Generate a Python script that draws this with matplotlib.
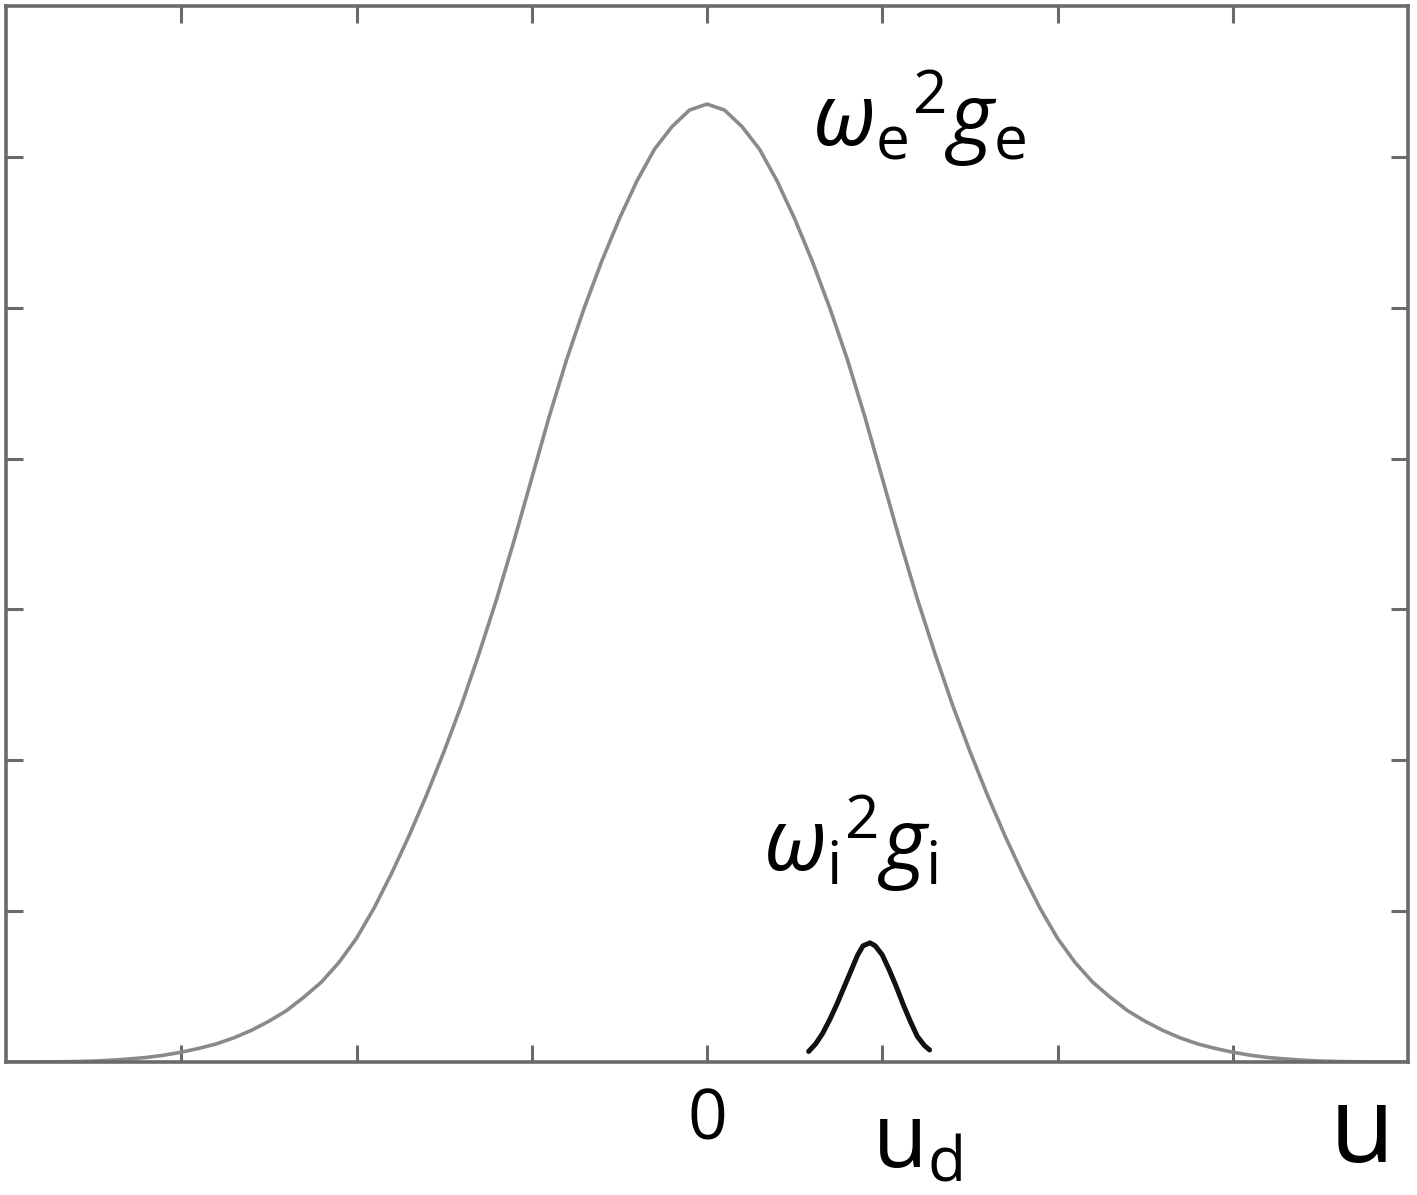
import matplotlib
matplotlib.use("Agg")
import matplotlib.pyplot as plt

plt.rcParams['font.family'] = ['Open Sans', 'DejaVu Sans']
plt.rcParams['mathtext.fontset'] = 'custom'
plt.rcParams['mathtext.rm'] = 'Open Sans'
plt.rcParams['mathtext.it'] = 'Open Sans:italic'
plt.rcParams['mathtext.bf'] = 'Open Sans:bold'

# electron curve  (u, value)
u_e = [-4.0, -3.8, -3.6, -3.5, -3.4, -3.3, -3.2, -3.1, -3.0, -2.9, -2.8, -2.7,
       -2.6, -2.5, -2.4, -2.3, -2.2, -2.1, -2.0, -1.9, -1.8, -1.7, -1.6, -1.5,
       -1.4, -1.3, -1.2, -1.1, -1.0, -0.9, -0.8, -0.7, -0.6, -0.5, -0.4, -0.3,
       -0.2, -0.1, 0.0,
       0.1, 0.2, 0.3, 0.4, 0.5, 0.6, 0.7, 0.8, 0.9, 1.0, 1.1, 1.2, 1.3, 1.4,
       1.5, 1.6, 1.7, 1.8, 1.9, 2.0, 2.1, 2.2, 2.3, 2.4, 2.5, 2.6, 2.7, 2.8,
       2.9, 3.0, 3.1, 3.2, 3.3, 3.4, 3.5, 3.6, 3.8, 4.0]
v_e = [0.0, 0.0, 0.003, 0.006, 0.012, 0.02, 0.03, 0.045, 0.065, 0.09, 0.12,
       0.16, 0.21, 0.27, 0.34, 0.43, 0.53, 0.66, 0.82, 1.02, 1.25, 1.50, 1.77,
       2.06, 2.37, 2.71, 3.07, 3.46, 3.87, 4.28, 4.66, 5.00, 5.31, 5.59, 5.84,
       6.05, 6.20, 6.31, 6.35,
       6.31, 6.20, 6.05, 5.84, 5.59, 5.31, 5.00, 4.66, 4.28, 3.87, 3.46, 3.07,
       2.71, 2.37, 2.06, 1.77, 1.50, 1.25, 1.02, 0.82, 0.66, 0.53, 0.43, 0.34,
       0.27, 0.21, 0.16, 0.12, 0.09, 0.065, 0.045, 0.03, 0.02, 0.012, 0.006,
       0.003, 0.0, 0.0]

# ion curve
u_i = [0.58, 0.62, 0.66, 0.70, 0.74, 0.78, 0.82, 0.86, 0.89, 0.93, 0.96, 1.00,
       1.04, 1.08, 1.12, 1.16, 1.20, 1.24, 1.27]
v_i = [0.07, 0.12, 0.19, 0.28, 0.38, 0.49, 0.60, 0.71, 0.77, 0.79, 0.77, 0.71,
       0.61, 0.50, 0.38, 0.27, 0.17, 0.11, 0.08]

xticks = [-3, -2, -1, 0, 1, 2, 3]
xticklabels = ['', '', '', '0', '', '', '']
yticks = [1, 2, 3, 4, 5, 6]

fig = plt.figure(figsize=(14.17, 11.95), dpi=100)
ax = fig.add_axes([6 / 1417, 133 / 1195, 1402 / 1417, 1056 / 1195])

ax.plot(u_e, v_e, color='#8a8a8a', lw=2.6, solid_capstyle='round',
        solid_joinstyle='round')
ax.plot(u_i, v_i, color='#111111', lw=3.6, solid_capstyle='round',
        solid_joinstyle='round')

ax.set_xlim(-4, 4)
ax.set_ylim(0, 7)
ax.set_xticks(xticks)
ax.set_xticklabels(xticklabels)
ax.set_yticks(yticks)
ax.set_yticklabels([])
ax.tick_params(direction='in', length=12, width=2.2, color='#6a6a6a',
               top=True, right=True, pad=18)
ax.tick_params(axis='x', labelsize=50)
for s in ax.spines.values():
    s.set_color('#6a6a6a')
    s.set_linewidth(2.6)

xt = ax.get_xaxis_transform()
ax.text(0.94, -0.100, r'u$_{\mathregular{d}}$', transform=xt, ha='left',
        va='baseline', fontsize=64)
ax.text(3.55, -0.095, 'u', transform=xt, ha='left', va='baseline', fontsize=76)

ax.text(0.60, 6.07, r'${\omega_{\mathrm{e}}}^{2}g_{\mathrm{e}}$', ha='left',
        va='baseline', fontsize=62)
ax.text(0.32, 1.27, r'${\omega_{\mathrm{i}}}^{2}g_{\mathrm{i}}$', ha='left',
        va='baseline', fontsize=62)

fig.savefig('out.png', dpi=100)
